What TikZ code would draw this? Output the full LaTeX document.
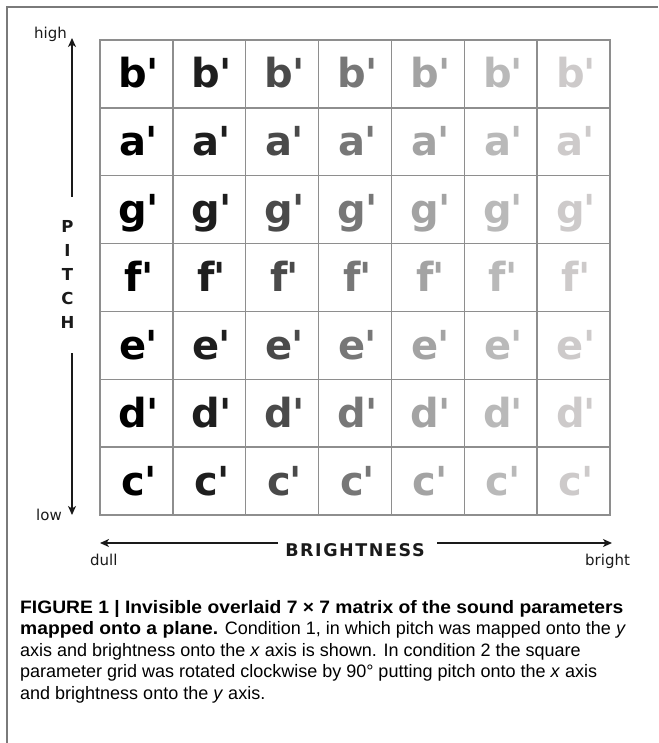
\documentclass[tikz,border=0pt]{standalone}
\usepackage{fontspec}
\usetikzlibrary{arrows.meta}
\newfontfamily\dvs{DejaVu Sans}
\newfontfamily\dvsb{DejaVu Sans Bold}
\newfontfamily\dvsbsp[LetterSpace=9]{DejaVu Sans Bold}
\newfontfamily\capfont[FakeStretch=1.0, BoldFeatures={FakeStretch=1.07}]{Liberation Sans}
\definecolor{gridgray}{HTML}{8E8E8E}
\definecolor{framegray}{HTML}{7A7A7A}
\definecolor{axisdark}{HTML}{1A1A1A}
\definecolor{colA}{HTML}{000000}
\definecolor{colB}{HTML}{1E1E1E}
\definecolor{colC}{HTML}{4A4A4A}
\definecolor{colD}{HTML}{777777}
\definecolor{colE}{HTML}{A3A3A3}
\definecolor{colF}{HTML}{B9B9B9}
\definecolor{colG}{HTML}{CDCACA}
\tikzset{
  cellbox/.style={draw=gridgray, line width=1.4pt, minimum width=72.857pt, minimum height=67.857pt, inner sep=0pt, outer sep=0pt},
  letterlbl/.style={font=\dvsb\fontsize{40}{40}\selectfont, inner sep=0pt, anchor=base},
  smalllbl/.style={font=\dvs\fontsize{15}{15}\selectfont, inner sep=0pt, anchor=base west, text=axisdark},
  pitchlbl/.style={font=\dvsb\fontsize{16.5}{24}\selectfont, inner sep=0pt, text=axisdark},
  brightlbl/.style={font=\dvsbsp\fontsize{17.5}{24}\selectfont, inner sep=0pt, text=axisdark},
  axisarrow/.style={draw=axisdark, line width=1.5pt, -{Stealth[length=9pt,width=8pt,inset=2.5pt]}},
  captionline/.style={font=\capfont\fontsize{18}{21.6}\selectfont, anchor=base west, inner sep=0pt, text=black},
}
\begin{document}
\begin{tikzpicture}[x=1pt,y=-1pt]
\useasboundingbox (0,0) rectangle (658,743);
% frame
\coordinate (fbl) at (7,743);
\coordinate (ftl) at (7,7);
\coordinate (ftr) at (658,7);
\draw[framegray, line width=1.8pt] (fbl) -- (ftl) -- (ftr);
% grid
\foreach \c/\col in {1/colA,2/colB,3/colC,4/colD,5/colE,6/colF,7/colG}{
  \foreach \r/\nm in {1/b,2/a,3/g,4/f,5/e,6/d,7/c}{
    \node[cellbox] (cell-\c-\r) at ({100+72.857*(\c-0.5)},{40+67.857*(\r-0.5)}) {};
    \node[letterlbl, text=\col] (lt-\c-\r) at ({100+72.857*(\c-0.5)+2.5},{40+67.857*(\r-1)+48}) {\nm\kern-1pt\textquotesingle};
  }
}
% pitch axis
\node[pitchlbl, align=center, anchor=north] (pitch) at (67.5,220) {P\\I\\T\\C\\H};
\coordinate (ptopstart) at (72,197);
\coordinate (ptopend) at (72,38);
\coordinate (pbotstart) at (72,353);
\coordinate (pbotend) at (72,515);
\draw[axisarrow] (ptopstart) -- (ptopend);
\draw[axisarrow] (pbotstart) -- (pbotend);
\node[smalllbl] (high) at (34,38.5) {high};
\node[smalllbl] (low) at (36,520) {low};
% brightness axis
\node[brightlbl, anchor=base] (bright) at (355,556) {BRIGHTNESS};
\coordinate (bl) at (100,543);
\coordinate (br) at (612,543);
\coordinate (blstart) at (278,543);
\coordinate (brstart) at (437,543);
\draw[axisarrow] (blstart) -- (bl);
\draw[axisarrow] (brstart) -- (br);
\node[smalllbl] (dull) at (90,565.5) {dull};
\node[smalllbl] (brt) at (585,565.5) {bright};
% caption
\node[captionline] (cap1) at (20,613) {\textbf{FIGURE 1 | Invisible overlaid 7 × 7 matrix of the sound parameters}};
\node[captionline] (cap2) at (20,634.6) {\textbf{mapped onto a plane.} Condition 1, in which pitch was mapped onto the \textit{y}};
\node[captionline] (cap3) at (20,656.2) {axis and brightness onto the \textit{x} axis is shown. In condition 2 the square};
\node[captionline] (cap4) at (20,677.8) {parameter grid was rotated clockwise by 90° putting pitch onto the \textit{x} axis};
\node[captionline] (cap5) at (20,699.4) {and brightness onto the \textit{y} axis.};
\end{tikzpicture}
\end{document}
